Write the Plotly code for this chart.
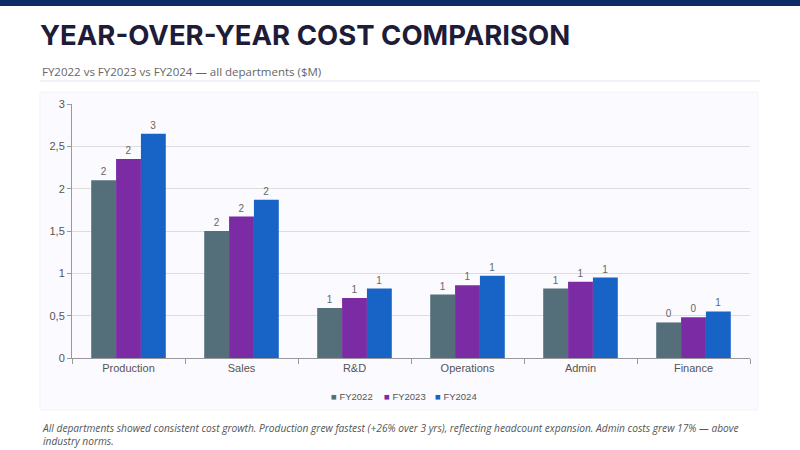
import plotly.graph_objects as go

# Podaci sa slike ($M)
departments = ["Production", "Sales", "R&D", "Operations", "Admin", "Finance"]
fy2022 = [2.10, 1.50, 0.59, 0.75, 0.82, 0.42]
fy2023 = [2.35, 1.67, 0.71, 0.86, 0.90, 0.48]
fy2024 = [2.65, 1.87, 0.82, 0.97, 0.95, 0.55]
series_names = ["FY2022", "FY2023", "FY2024"]
y_ticks = [0, 0.5, 1, 1.5, 2, 2.5, 3]

colors = ["#546e7a", "#7b2ba3", "#1763c6"]

W, H = 800, 450
L, R, T, B = 72, 50, 104, 92

# Piksel -> paper koordinate
def px(x):
    return (x - L) / (W - L - R)

def py(y):
    return (H - B - y) / (H - T - B)

fig = go.Figure()
for name, vals, c in zip(series_names, [fy2022, fy2023, fy2024], colors):
    fig.add_trace(go.Bar(
        x=departments, y=vals, name=name, marker_color=c, marker_line_width=0,
        text=vals, texttemplate="%{y:.0f}", textposition="outside",
        textfont=dict(family="Liberation Sans", size=10, color="#666666"),
        cliponaxis=False,
    ))

fig.update_layout(
    width=W, height=H,
    margin=dict(l=L, r=R, t=T, b=B),
    paper_bgcolor="white",
    plot_bgcolor="rgba(0,0,0,0)",
    separators=", ",
    barmode="group",
    bargap=0.34,
    bargroupgap=0,
    font=dict(family="Liberation Sans", size=11, color="#555555"),
    showlegend=False,
)
fig.update_xaxes(showline=True, linecolor="#999999", ticks="outside", tickson="boundaries",
                 tickcolor="#999999", ticklen=5, tickfont=dict(size=11, color="#555555"))
fig.update_yaxes(range=[0, 3], tickvals=y_ticks, showgrid=True, gridcolor="#dddddd",
                 showline=True, linecolor="#999999", ticks="outside", tickcolor="#999999",
                 ticklen=4, zeroline=False, tickfont=dict(size=11, color="#555555"))

shapes = [
    dict(type="rect", xref="paper", yref="paper", x0=px(0), x1=px(800), y0=py(0), y1=py(6),
         fillcolor="#0b2d66", line_width=0, layer="below"),
    dict(type="line", xref="paper", yref="paper", x0=px(40), x1=px(760), y0=py(81), y1=py(81),
         line=dict(color="#eeeef3", width=1.5), layer="below"),
    dict(type="rect", xref="paper", yref="paper", x0=px(40), x1=px(758), y0=py(92), y1=py(410),
         fillcolor="#fbfaff", line=dict(color="#f3f2f8", width=1), layer="below"),
]
fig.update_layout(shapes=shapes)

# Legenda
leg_x = [329, 382, 433]
for name, c, lx in zip(series_names, colors, leg_x):
    fig.add_annotation(text=f"<span style='color:{c}'>■</span> {name}", xref="paper", yref="paper",
                       x=px(lx), y=py(396), xanchor="left", yanchor="middle", showarrow=False,
                       font=dict(family="Liberation Sans", size=9.5, color="#555555"))

fig.add_annotation(text="<b>YEAR-OVER-YEAR COST COMPARISON</b>", xref="paper", yref="paper",
                   x=px(38), y=py(35), xanchor="left", yanchor="middle", showarrow=False,
                   font=dict(family="Inter", size=27.5, color="#1e1c38"))
fig.add_annotation(text="FY2022 vs FY2023 vs FY2024 — all departments ($M)", xref="paper", yref="paper",
                   x=px(40), y=py(71), xanchor="left", yanchor="middle", showarrow=False,
                   font=dict(family="Open Sans", size=11.5, color="#666666"))
fig.add_annotation(text="<i>All departments showed consistent cost growth. Production grew fastest (+26% over 3 yrs), "
                        "reflecting headcount expansion. Admin costs grew 17% — above<br>industry norms.</i>",
                   xref="paper", yref="paper", x=px(40), y=py(434), xanchor="left", yanchor="middle",
                   align="left", showarrow=False,
                   font=dict(family="Open Sans", size=10.2, color="#555555"))

fig.write_html("out.html", config={"displayModeBar": False},
               post_script="document.body.style.margin='0';")
